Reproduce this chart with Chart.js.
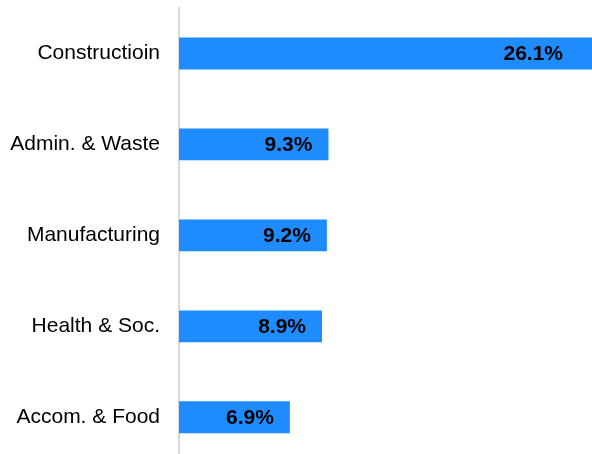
<!DOCTYPE html>
<html>
<head>
<meta charset="utf-8">
<script src="https://cdn.jsdelivr.net/npm/chart.js@4/dist/chart.umd.min.js"></script>
<style>
  html, body { margin: 0; padding: 0; background: #ffffff; overflow: hidden; }
  #wrap { width: 592px; height: 469px; position: relative; }
</style>
</head>
<body>
<div id="wrap"><canvas id="c"></canvas></div>
<script>
const categories = ["Constructioin", "Admin. & Waste", "Manufacturing", "Health & Soc.", "Accom. & Food"];
const shares = [26.1, 9.3, 9.2, 8.9, 6.9];
const valueLabels = ["26.1%", "9.3%", "9.2%", "8.9%", "6.9%"];

const FONT = "'Liberation Sans', Arial, Helvetica, sans-serif";

const valueLabelPlugin = {
  id: 'valueLabels',
  afterDatasetsDraw(chart) {
    const ctx = chart.ctx;
    const meta = chart.getDatasetMeta(0);
    const area = chart.chartArea;
    ctx.save();
    ctx.font = "bold 21px " + FONT;
    ctx.fillStyle = "#000000";
    ctx.textAlign = "right";
    ctx.textBaseline = "middle";
    meta.data.forEach((bar, i) => {
      const xEnd = Math.min(bar.x, area.right - 13) - 16;
      ctx.fillText(valueLabels[i], xEnd, bar.y + 1);
    });
    ctx.restore();
  }
};

new Chart(document.getElementById('c'), {
  type: 'bar',
  data: {
    labels: categories,
    datasets: [{
      data: shares,
      backgroundColor: '#1E8BFF',
      borderWidth: 0,
      barPercentage: 0.35,
      categoryPercentage: 1.0
    }]
  },
  options: {
    indexAxis: 'y',
    responsive: true,
    maintainAspectRatio: false,
    animation: false,
    layout: { padding: { top: 8, bottom: 0, left: 0, right: 0 } },
    plugins: { legend: { display: false }, tooltip: { enabled: false } },
    scales: {
      x: {
        display: false,
        min: 0,
        max: 25.7
      },
      y: {
        grid: {
          display: true,
          drawOnChartArea: false,
          drawTicks: true,
          tickLength: 19,
          color: 'rgba(0,0,0,0)',
          tickColor: 'rgba(0,0,0,0)'
        },
        border: { display: true, color: '#d9d9d9', width: 2 },
        ticks: {
          color: '#000000',
          padding: 0,
          font: { family: FONT, size: 21, lineHeight: 0.6 }
        },
        afterFit(axis) { axis.width = 179; }
      }
    }
  },
  plugins: [valueLabelPlugin]
});
</script>
</body>
</html>
